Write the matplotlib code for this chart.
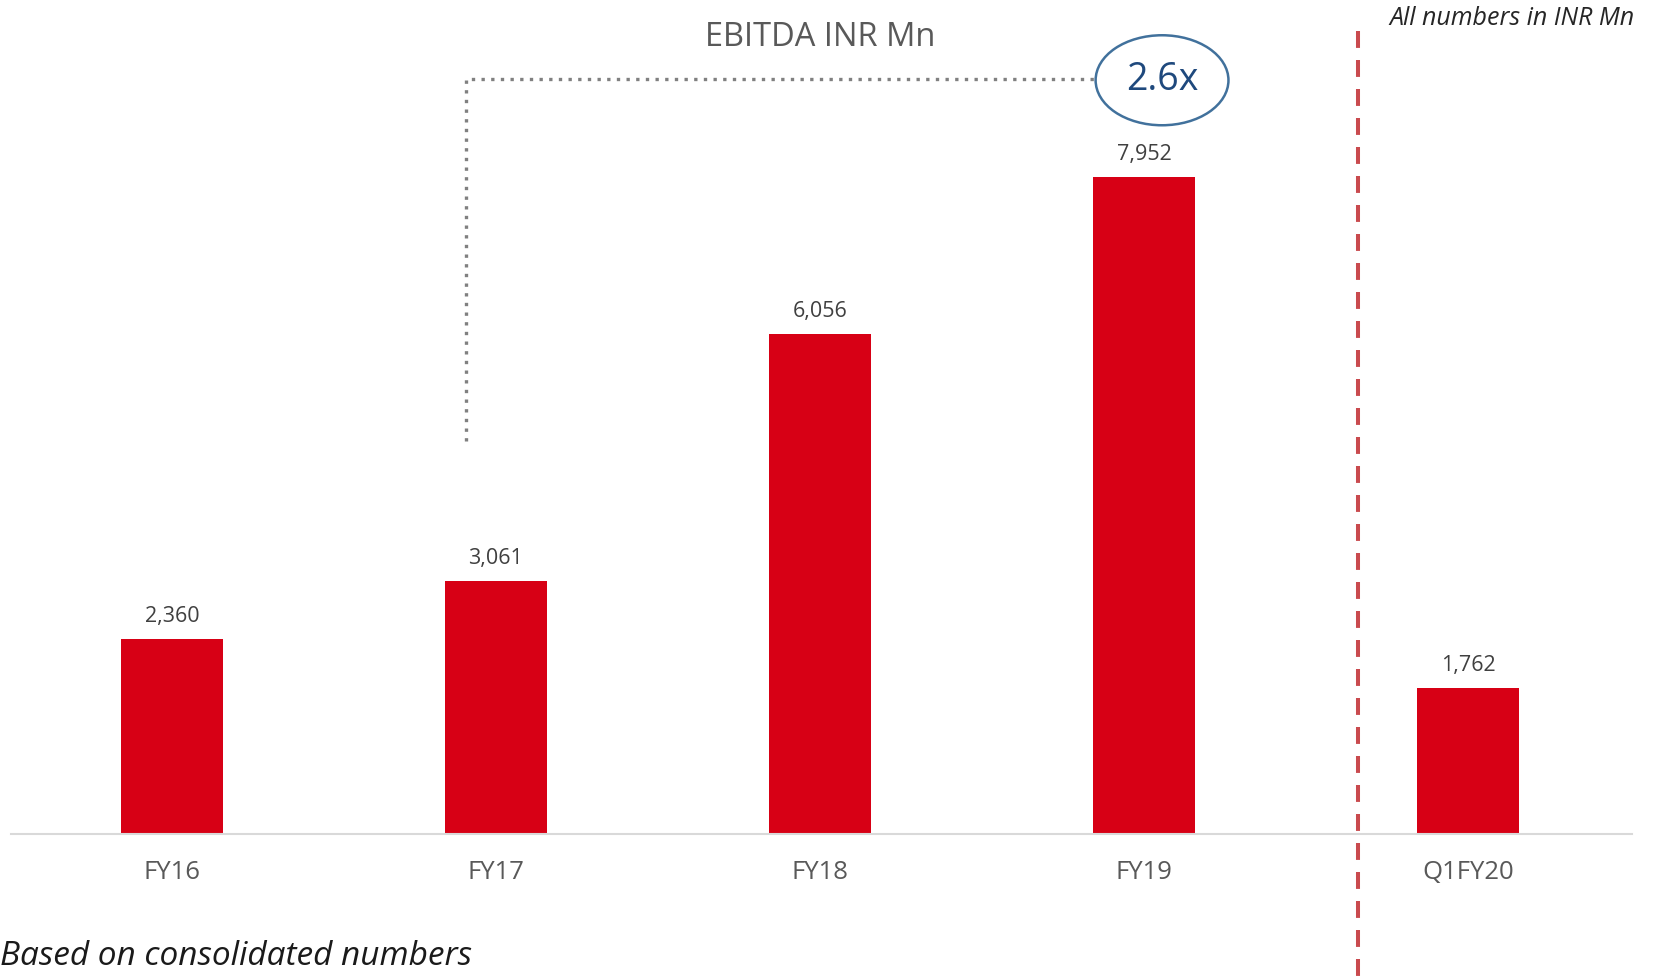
import matplotlib.pyplot as plt
from matplotlib.patches import Ellipse

# datos
categorias = ["FY16", "FY17", "FY18", "FY19", "Q1FY20"]
ebitda = [2360, 3061, 6056, 7952, 1762]
etiquetas = ["2,360", "3,061", "6,056", "7,952", "1,762"]
multiplo = "2.6x"

plt.rcParams['font.family'] = ['Open Sans', 'DejaVu Sans']

fig = plt.figure(figsize=(16.56, 9.77), dpi=100)
ax = fig.add_axes([0.0064, 0.1464, 0.979, 0.8536])

x = list(range(len(categorias)))
ax.bar(x, ebitda, width=0.315, color="#d70015", zorder=2)

for xi, v, t in zip(x, ebitda, etiquetas):
    ax.text(xi, v + 206, t, ha="center", va="baseline", fontsize=15.5, color="#404040")

ax.set_xlim(-0.498, 4.506)
ax.set_ylim(0, 10100)

# ejes
for s in ["top", "right", "left"]:
    ax.spines[s].set_visible(False)
ax.spines["bottom"].set_color("#d9d9d9")
ax.spines["bottom"].set_linewidth(1.5)
ax.set_yticks([])
ax.set_xticks(x)
ax.set_xticklabels(categorias, fontsize=18.5, color="#595959")
ax.tick_params(axis="x", length=0, pad=19)

# linea separadora
ax.plot([3.66, 3.66], [9720, -1750], color="#c94a4e", linestyle=(0, (4.2, 3)),
        linewidth=2.9, clip_on=False, zorder=1)

# conector punteado
ax.plot([0.907, 0.907, 2.855], [4758, 9140, 9140], color="#808080",
        linestyle=(0, (1, 1.9)), linewidth=2.4, solid_capstyle="butt",
        dash_capstyle="butt", zorder=1)

# elipse 2.6x
ax.add_patch(Ellipse((3.056, 9128), 0.41, 1090, fill=False,
                     edgecolor="#41719c", linewidth=1.8, zorder=3))
ax.text(3.056, 9128, multiplo, ha="center", va="center", fontsize=27, color="#1f497d")

# textos
fig.text(0.4955, 0.962, "EBITDA INR Mn", ha="center", va="center", fontsize=23.5, color="#595959")
fig.text(0.987, 0.981, "All numbers in INR Mn", ha="right", va="center",
         fontsize=18, style="italic", color="#262626")
fig.text(0.0, 0.021, "Based on consolidated numbers", ha="left", va="center",
         fontsize=24, style="italic", color="#1a1a1a")

plt.savefig("out.png", dpi=100)
plt.close()
